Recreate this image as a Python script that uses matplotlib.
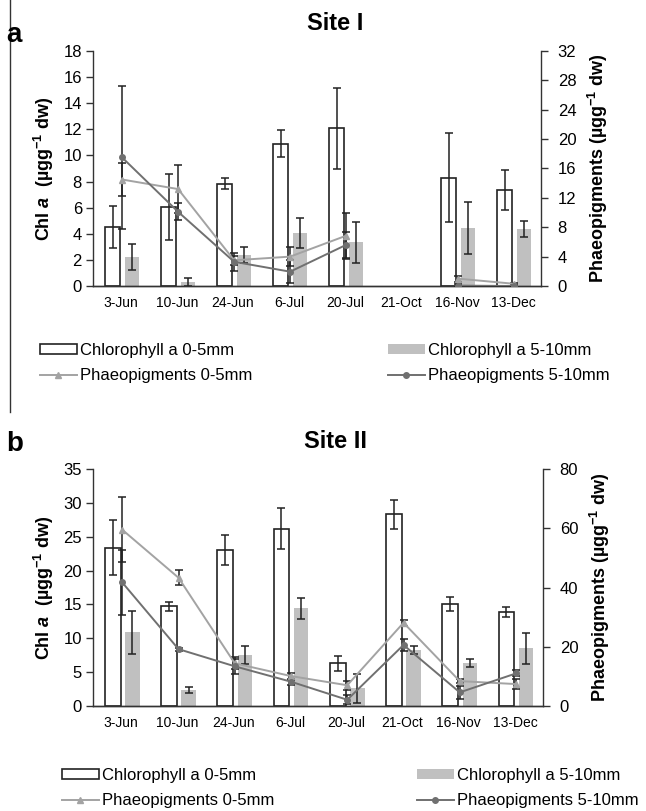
import numpy as np
import matplotlib
matplotlib.use("Agg")
import matplotlib.pyplot as plt
from matplotlib.lines import Line2D
from matplotlib.patches import Patch

plt.rcParams["font.family"] = ["Liberation Sans", "DejaVu Sans"]
plt.rcParams["mathtext.fontset"] = "custom"
plt.rcParams["mathtext.rm"] = "Liberation Sans:bold"
plt.rcParams["mathtext.it"] = "Liberation Sans:bold:italic"
plt.rcParams["mathtext.bf"] = "Liberation Sans:bold"

nan = np.nan
dates = ["3-Jun", "10-Jun", "24-Jun", "6-Jul", "20-Jul", "21-Oct", "16-Nov", "13-Dec"]

# Site I
s1_chl_0_5 = [4.5, 6.05, 7.85, 10.9, 12.1, nan, 8.3, 7.35]
s1_chl_0_5_err = [1.6, 2.5, 0.45, 1.05, 3.1, nan, 3.4, 1.55]
s1_chl_5_10 = [2.25, 0.3, 2.4, 4.05, 3.35, nan, 4.45, 4.35]
s1_chl_5_10_err = [1.0, 0.3, 0.6, 1.15, 1.55, nan, 2.0, 0.6]
s1_phaeo_0_5 = [14.5, 13.2, 3.5, 4.0, 6.85, nan, 1.0, 0.3]
s1_phaeo_0_5_err = [2.2, 3.25, 0.6, 1.3, 3.15, nan, 0.4, 0.1]
s1_phaeo_5_10 = [17.5, 10.1, 3.3, 1.95, 5.6, nan, 0.05, 0.0]
s1_phaeo_5_10_err = [9.7, 1.15, 1.2, 1.6, 1.8, nan, 0.2, 0.0]

# Site II
s2_chl_0_5 = [23.4, 14.7, 23.0, 26.2, 6.3, 28.3, 15.1, 13.9]
s2_chl_0_5_err = [4.0, 0.7, 2.2, 3.0, 1.1, 2.1, 1.0, 0.75]
s2_chl_5_10 = [10.9, 2.35, 7.5, 14.4, 2.6, 8.3, 6.3, 8.5]
s2_chl_5_10_err = [3.2, 0.4, 1.35, 1.5, 2.1, 0.55, 0.6, 2.25]
s2_phaeo_0_5 = [59.5, 43.3, 14.4, 10.1, 7.0, 28.1, 8.4, 7.4]
s2_phaeo_0_5_err = [11.0, 2.5, 2.0, 1.2, 1.5, 1.0, 0.8, 1.6]
s2_phaeo_5_10 = [41.7, 19.2, 13.4, 8.2, 2.1, 20.6, 4.6, 11.0]
s2_phaeo_5_10_err = [11.0, 0.5, 2.5, 1.0, 1.5, 2.0, 2.2, 1.0]

EDGE = "#222222"
GREY_BAR = "#c0c0c0"
P05_COLOR = "#a3a3a3"
P510_COLOR = "#707070"

W, H = 646, 811
fig = plt.figure(figsize=(W / 100, H / 100), dpi=100)


def fx(px):
    return px / W


def fy(py):
    return 1 - py / H


def draw_panel(rect, chl05, chl05e, chl510, chl510e, p05, p05e, p510, p510e,
               lmax, lstep, rmax, rstep):
    ax = fig.add_axes(rect)
    ax2 = ax.twinx()
    x = np.arange(len(dates))

    ax.bar(x - 0.15, chl05, width=0.28, color="white", edgecolor=EDGE,
           linewidth=1.2, zorder=2)
    ax.bar(x + 0.2, chl510, width=0.26, color=GREY_BAR, linewidth=0, zorder=2)
    eb = dict(fmt="none", ecolor=EDGE, elinewidth=1.1, capsize=3, capthick=1.1,
              zorder=3)
    ax.errorbar(x - 0.15, chl05, yerr=chl05e, **eb)
    ax.errorbar(x + 0.2, chl510, yerr=chl510e, **eb)

    xl = x + 0.02
    ax2.plot(xl, p05, color=P05_COLOR, lw=1.4, marker="^", ms=4.5,
             mfc=P05_COLOR, mec=P05_COLOR, zorder=4)
    ax2.plot(xl, p510, color=P510_COLOR, lw=1.4, marker="o", ms=4,
             mfc=P510_COLOR, mec=P510_COLOR, zorder=4)
    ax2.errorbar(xl, p05, yerr=p05e, **eb)
    ax2.errorbar(xl, p510, yerr=p510e, **eb)

    ax.set_xlim(-0.5, len(dates) - 0.5)
    ax.set_ylim(0, lmax)
    ax2.set_ylim(0, rmax)
    ax.set_yticks(np.arange(0, lmax + 0.1, lstep))
    ax2.set_yticks(np.arange(0, rmax + 0.1, rstep))
    ax.set_xticks(x)
    ax.set_xticklabels(dates)

    for a in (ax, ax2):
        a.spines["top"].set_visible(False)
        for s in a.spines.values():
            s.set_color("#333333")
            s.set_linewidth(1.0)
    ax.spines["right"].set_visible(False)
    ax2.spines["left"].set_visible(False)

    ax.tick_params(axis="y", direction="out", length=5, width=1,
                   labelsize=12, pad=3, color="#333333")
    ax2.tick_params(axis="y", direction="out", length=5, width=1,
                    labelsize=12, pad=7, color="#333333")
    ax.tick_params(axis="x", length=0, labelsize=10, pad=7)

    ax.set_ylabel(r"Chl $\mathit{a}$  (µgg$^{\mathrm{-1}}$ dw)",
                  fontsize=13, fontweight="bold", labelpad=5)
    ax2.set_ylabel(r"Phaeopigments (µgg$^{\mathrm{-1}}$ dw)",
                   fontsize=13, fontweight="bold", labelpad=7)
    return ax, ax2


def add_legend(left_px, top_px, shift):
    h_white = Patch(facecolor="white", edgecolor=EDGE, linewidth=1.2)
    h_grey = Patch(facecolor=GREY_BAR, edgecolor="none")
    h_p05 = Line2D([], [], color=P05_COLOR, lw=1.4, marker="^", ms=4.5)
    h_p510 = Line2D([], [], color=P510_COLOR, lw=1.4, marker="o", ms=4)
    opts = dict(loc="upper left", frameon=False, fontsize=12,
                handlelength=2.2, handleheight=0.5, handletextpad=0.2,
                labelspacing=0.6, borderpad=0, borderaxespad=0)
    fig.legend([h_white, h_p05],
               ["Chlorophyll a 0-5mm", "Phaeopigments 0-5mm"],
               bbox_to_anchor=(fx(left_px), fy(top_px)), **opts)
    fig.legend([h_grey, h_p510],
               ["Chlorophyll a 5-10mm", "Phaeopigments 5-10mm"],
               bbox_to_anchor=(fx(left_px + shift), fy(top_px)), **opts)


# Site I
draw_panel([fx(93), fy(286), fx(541) - fx(93), fy(51) - fy(286)],
           s1_chl_0_5, s1_chl_0_5_err, s1_chl_5_10, s1_chl_5_10_err,
           s1_phaeo_0_5, s1_phaeo_0_5_err, s1_phaeo_5_10, s1_phaeo_5_10_err,
           18, 2, 32, 4)
fig.text(fx(335), fy(23), "Site I", ha="center", va="center",
         fontsize=17, fontweight="bold")
fig.text(fx(6), fy(35), "a", ha="left", va="center", fontsize=20,
         fontweight="bold")
add_legend(40, 343, 348)

# Site II
draw_panel([fx(93), fy(706), fx(543) - fx(93), fy(469) - fy(706)],
           s2_chl_0_5, s2_chl_0_5_err, s2_chl_5_10, s2_chl_5_10_err,
           s2_phaeo_0_5, s2_phaeo_0_5_err, s2_phaeo_5_10, s2_phaeo_5_10_err,
           35, 5, 80, 20)
fig.text(fx(335), fy(442), "Site II", ha="center", va="center",
         fontsize=17, fontweight="bold")
fig.text(fx(6), fy(444), "b", ha="left", va="center", fontsize=20,
         fontweight="bold")
add_legend(62, 768, 355)

# left border line of the upper panel
fig.add_artist(Line2D([fx(10), fx(10)], [1, fy(412)], color="#333333", lw=1.0))

fig.savefig("out.png", dpi=100)
